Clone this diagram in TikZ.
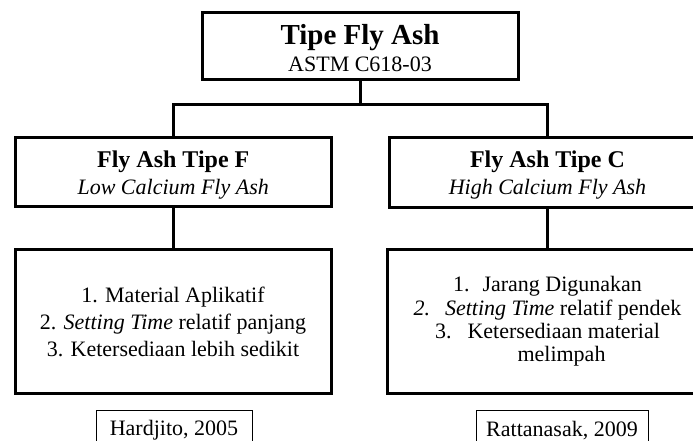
\documentclass[tikz,border=0pt]{standalone}
\usepackage{fontspec}
\setmainfont{Liberation Serif}
\begin{document}
\begin{tikzpicture}[x=1pt,y=-1pt,
  box/.style={draw, line width=3pt, inner sep=0pt, align=center},
  link/.style={line width=3pt},
  cite/.style={inner xsep=0pt, inner ysep=0pt,
    text height=25.5pt, text depth=2.5pt, anchor=north,
    font=\fontsize{22}{26}\selectfont},
  citeline/.style={line width=0.8pt}]
\useasboundingbox (0,0) rectangle (693,441);
\clip (0,0) rectangle (693,441);

\node[box, minimum width=316pt, minimum height=67pt,
  font=\fontsize{22}{27}\selectfont] (top) at (360,46.5)
  {\rule{0pt}{24pt}{\fontsize{29}{30}\selectfont\bfseries Tipe Fly Ash}\\ASTM C618-03};

\node[box, minimum width=316pt, minimum height=68pt,
  font=\fontsize{22}{27}\selectfont] (F) at (173.25,172)
  {\rule{0pt}{22pt}{\fontsize{24}{27}\selectfont\bfseries Fly Ash Tipe F}\\\textit{Low Calcium Fly Ash}};

\node[box, minimum width=316pt, minimum height=69pt,
  font=\fontsize{22}{27}\selectfont] (C) at (547.5,172.5)
  {\rule{0pt}{22pt}{\fontsize{24}{27}\selectfont\bfseries Fly Ash Tipe C}\\\textit{High Calcium Fly Ash}};

\node[box, minimum width=316pt, minimum height=144pt,
  font=\fontsize{22}{27}\selectfont] (LL) at (173,321.5)
  {1. Material Aplikatif\\2. \textit{Setting Time} relatif panjang\\3. Ketersediaan lebih sedikit};

\node[box, minimum width=321pt, minimum height=144pt,
  font=\fontsize{22}{23.2}\selectfont] (LR) at (547.5,321.5)
  {1.\hspace*{13pt}Jarang Digunakan\\\textit{2.}\hspace*{15pt}\textit{Setting Time} relatif pendek\\3.\hspace*{16pt}Ketersediaan material\\\hspace*{28pt}melimpah};

\node[cite, minimum width=155.4pt] (H) at (174,410) {Hardjito, 2005};
\node[cite, minimum width=171.7pt] (R) at (562,410.5) {Rattanasak, 2009};
\draw[citeline] ([yshift=-6pt]H.south west) |- (H.north east) -- ([yshift=-6pt]H.south east);
\draw[citeline] ([yshift=-6pt]R.south west) |- (R.north east) -- ([yshift=-6pt]R.south east);

\coordinate (bar) at (360,105);
\draw[link] (top.south) -- (bar);
\draw[link] (F.north) |- (bar) -| (C.north);
\draw[link] (F.south) -- (F.south |- LL.north);
\draw[link] (C.south) -- (C.south |- LR.north);
\end{tikzpicture}
\end{document}
